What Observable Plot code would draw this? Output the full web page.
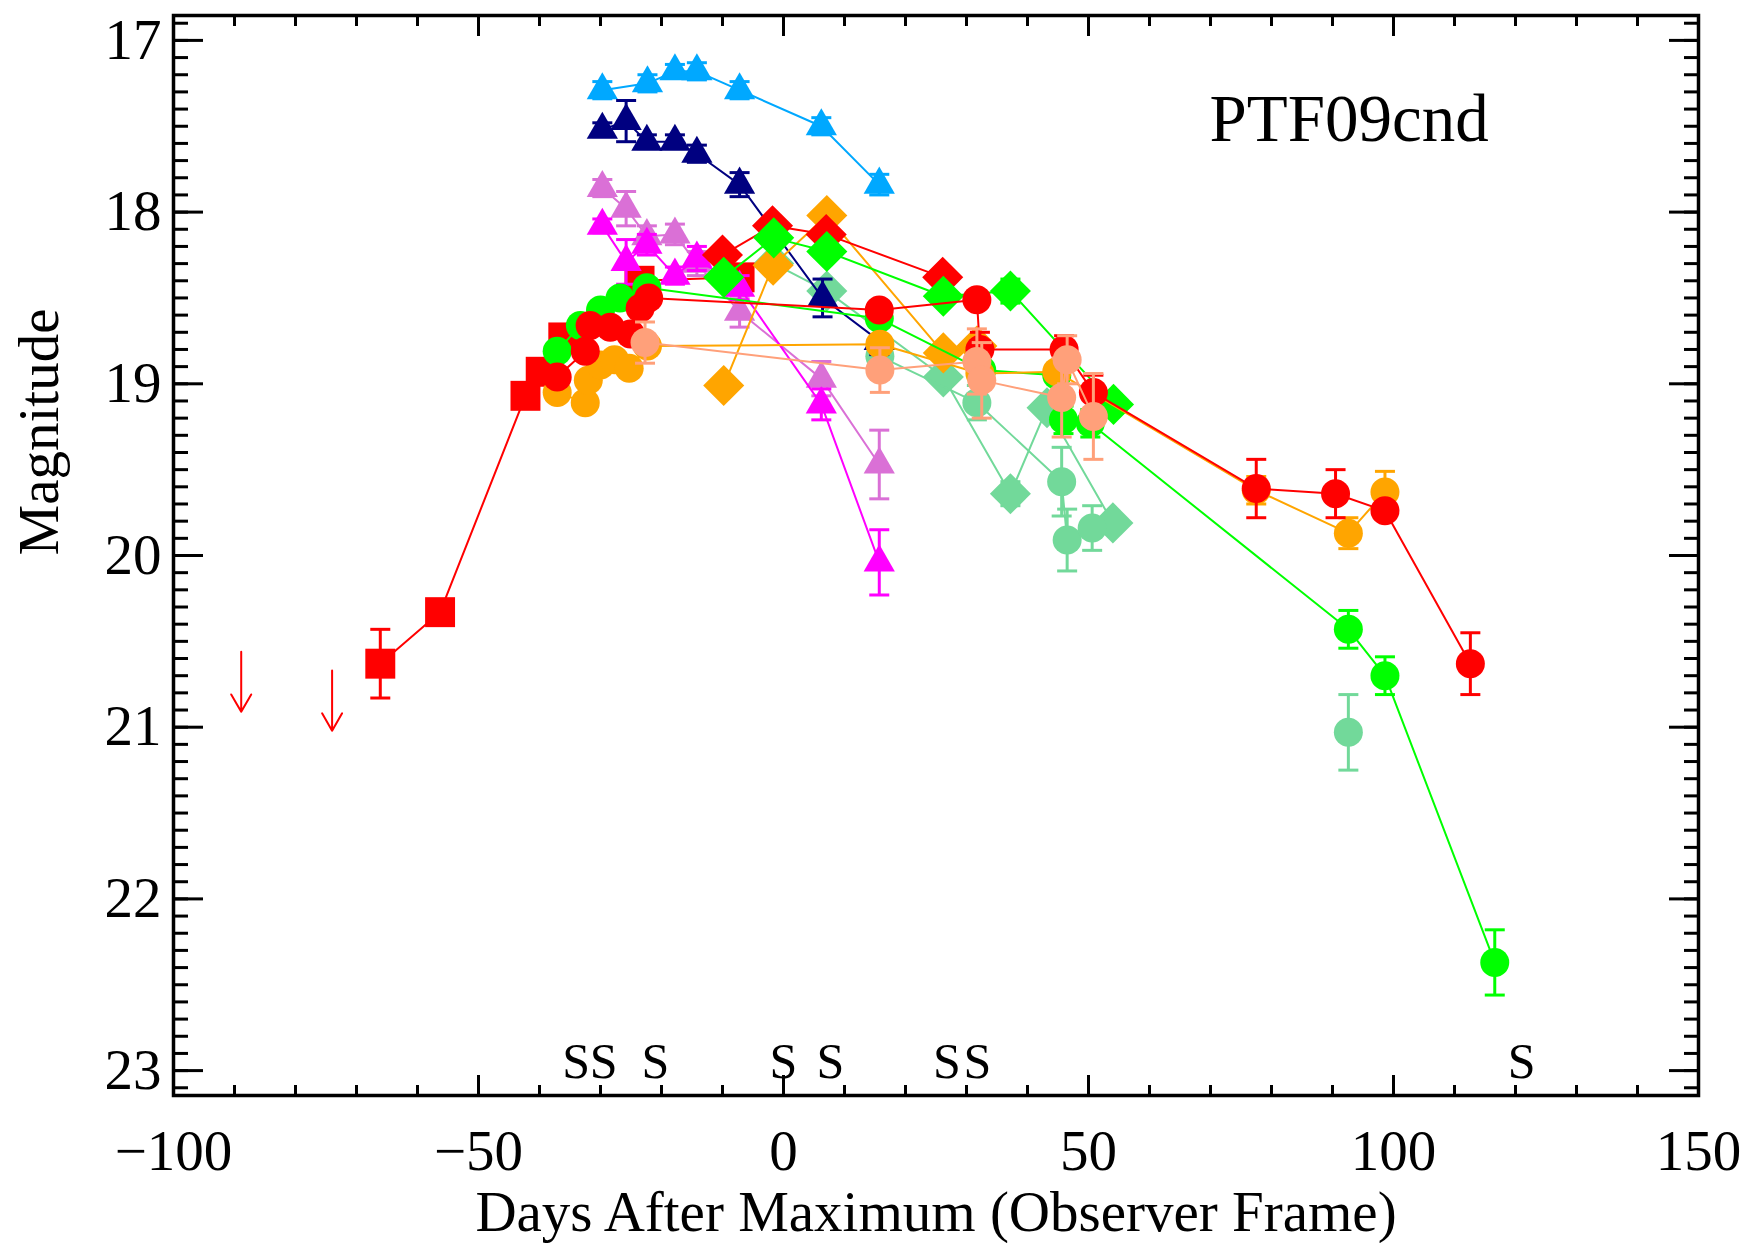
<!DOCTYPE html>
<html><head><meta charset="utf-8">
<script src="https://cdn.jsdelivr.net/npm/d3@7"></script>
<script src="https://cdn.jsdelivr.net/npm/@observablehq/plot@0.6"></script>
<style>html,body{margin:0;padding:0;background:#fff}</style>
</head><body><div id="chart"></div>
<script>
// ---------------- data ----------------
const xMajor = [-100, -50, 0, 50, 100, 150];
const yMajor = [17, 18, 19, 20, 21, 22, 23];
const xTitle = "Days After Maximum (Observer Frame)";
const yTitle = "Magnitude";
const objName = "PTF09cnd";

// Swift UV triangles
const lbDay = [-29.7, -22.3, -17.8, -14.2, -7.2, 6.2, 15.7];
const lbMag = [17.29, 17.25, 17.18, 17.18, 17.29, 17.50, 17.84];
const lbErr = [0.05, 0.05, 0.04, 0.05, 0.05, 0.05, 0.06];

const nvDay = [-29.7, -25.8, -22.4, -17.8, -14.2, -7.2, 6.4, 15.7];
const nvMag = [17.52, 17.47, 17.59, 17.59, 17.66, 17.84, 18.50, 18.75];
const nvErr = [0.04, 0.12, 0.04, 0.04, 0.05, 0.07, 0.11, 0.08];

const orDay = [-29.7, -25.8, -22.4, -17.8, -14.2, -7.2, 6.2, 15.7];
const orMag = [17.86, 17.98, 18.14, 18.13, 18.30, 18.58, 18.97, 19.47];
const orErr = [0.05, 0.10, 0.06, 0.06, 0.07, 0.09, 0.10, 0.20];

const mgDay = [-29.7, -25.8, -22.4, -17.8, -14.2, -7.2, 6.2, 15.7];
const mgMag = [18.08, 18.29, 18.19, 18.37, 18.27, 18.44, 19.12, 20.04];
const mgErr = [0.04, 0.13, 0.06, 0.05, 0.07, 0.07, 0.09, 0.19];

// red squares
const rsDay = [-66.1, -56.3, -42.3, -39.8, -36.1, -23.6, -7.2];
const rsMag = [20.63, 20.33, 19.07, 18.93, 18.73, 18.40, 18.38];
const rsErr = [0.20, 0.05, 0.04, 0.04, 0.04, 0.04, 0.05];

// upper limits (arrows)
const ulDay = [-88.9, -74.0];
const ulMag = [20.56, 20.67];

// circles
const rcDay = [-37.1, -32.5, -31.7, -28.4, -25.1, -23.5, -22.1, 15.7, 31.7, 32.2, 46.0, 50.8, 77.5, 90.5, 98.6, 112.6];
const rcMag = [18.96, 18.81, 18.66, 18.67, 18.71, 18.56, 18.50, 18.57, 18.51, 18.80, 18.80, 19.05, 19.61, 19.64, 19.74, 20.63];
const rcErr = [0.03, 0.03, 0.03, 0.03, 0.03, 0.03, 0.03, 0.04, 0.05, 0.10, 0.08, 0.10, 0.17, 0.14, 0.05, 0.18];

const ocDay = [-37.1, -32.5, -32.0, -30.0, -27.7, -25.3, -22.3, 15.8, 32.2, 44.8, 77.5, 92.6, 98.6];
const ocMag = [19.05, 19.11, 18.98, 18.89, 18.86, 18.91, 18.78, 18.77, 18.94, 18.93, 19.62, 19.87, 19.63];
const ocErr = [0.03, 0.03, 0.03, 0.03, 0.03, 0.03, 0.03, 0.04, 0.04, 0.05, 0.08, 0.09, 0.12];

const gcDay = [-37.1, -33.3, -30.0, -26.8, -22.4, 15.7, 32.5, 44.8, 45.9, 50.3, 92.6, 98.6, 116.6];
const gcMag = [18.81, 18.66, 18.57, 18.50, 18.44, 18.62, 18.92, 18.95, 19.21, 19.23, 20.43, 20.70, 22.37];
const gcErr = [0.03, 0.03, 0.03, 0.03, 0.03, 0.04, 0.05, 0.05, 0.08, 0.08, 0.11, 0.11, 0.19];

const scDay = [-22.7, 15.8, 31.7, 32.5, 45.6, 46.5, 50.8];
const scMag = [18.76, 18.92, 18.87, 18.98, 19.08, 18.86, 19.19];
const scErr = [0.12, 0.13, 0.19, 0.22, 0.23, 0.14, 0.25];

const acDay = [15.8, 31.7, 45.6, 46.5, 50.6, 92.6];
const acMag = [18.84, 19.11, 19.57, 19.91, 19.84, 21.03];
const acErr = [0.04, 0.10, 0.20, 0.18, 0.13, 0.22];
const acSeg = [0, 0, 0, 0, 0, 1];

// diamonds
const gdDay = [-9.8, -1.6, 7.1, 26.2, 37.2, 54.1];
const gdMag = [18.38, 18.15, 18.23, 18.49, 18.46, 19.12];
const gdErr = [0.03, 0.03, 0.03, 0.04, 0.07, 0.05];

const rdDay = [-10.0, -1.8, 7.0, 26.1];
const rdMag = [18.25, 18.08, 18.13, 18.38];
const rdErr = [0.03, 0.03, 0.03, 0.03];

const odDay = [-9.8, -1.7, 7.1, 26.2, 31.7];
const odMag = [19.01, 18.31, 18.02, 18.82, 18.78];
const odErr = [0.03, 0.03, 0.03, 0.03, 0.03];

const adDay = [-1.6, 7.1, 26.2, 37.2, 43.2, 54.0];
const adMag = [18.30, 18.46, 18.96, 19.64, 19.14, 19.81];
const adErr = [0.03, 0.04, 0.04, 0.07, 0.05, 0.04];

// spectra epochs ("S")
const specDay = [-34.0, -29.5, -21.0, 0.0, 7.7, 26.8, 31.8, 121.0];
const specText = "S";

// ---------------- styles ----------------
const C = {
  lblue: "#00A8FF", navy: "#000080", orchid: "#DA70D6", magenta: "#FF00FF",
  red: "#FF0000", orange: "#FFA500", green: "#00FF00", salmon: "#FFA07A", aqua: "#72D99A"
};
const R = {circle: 14.5, square: 16.9, diamond: 18.5, triangle: 11.6};
const FONT = "'Liberation Serif', 'Times New Roman', Times, serif";
const FS = 57;
const specFS = 50;
const specMag = 22.95;
const arrowLen = 0.35;

function rows(days, mags, errs, seg) {
  return days.map((d, i) => ({day: d, mag: mags[i], err: errs ? errs[i] : 0, seg: seg ? seg[i] : 0}));
}

const capSymbol = {draw(ctx) { ctx.moveTo(-10, 0); ctx.lineTo(10, 0); }};

const series = [
  {data: rows(adDay, adMag, adErr), color: C.aqua, symbol: "diamond2", r: R.diamond},
  {data: rows(acDay, acMag, acErr, acSeg), color: C.aqua, symbol: "circle", r: R.circle},
  {data: rows(rsDay, rsMag, rsErr), color: C.red, symbol: "square", r: R.square},
  {data: rows(lbDay, lbMag, lbErr), color: C.lblue, symbol: "triangle", r: R.triangle},
  {data: rows(nvDay, nvMag, nvErr), color: C.navy, symbol: "triangle", r: R.triangle},
  {data: rows(orDay, orMag, orErr), color: C.orchid, symbol: "triangle", r: R.triangle},
  {data: rows(mgDay, mgMag, mgErr), color: C.magenta, symbol: "triangle", r: R.triangle},
  {data: rows(odDay, odMag, odErr), color: C.orange, symbol: "diamond2", r: R.diamond},
  {data: rows(rdDay, rdMag, rdErr), color: C.red, symbol: "diamond2", r: R.diamond},
  {data: rows(gdDay, gdMag, gdErr), color: C.green, symbol: "diamond2", r: R.diamond},
  {data: rows(gcDay, gcMag, gcErr), color: C.green, symbol: "circle", r: R.circle},
  {data: rows(ocDay, ocMag, ocErr), color: C.orange, symbol: "circle", r: R.circle},
  {data: rows(rcDay, rcMag, rcErr), color: C.red, symbol: "circle", r: R.circle},
  {data: rows(scDay, scMag, scErr), color: C.salmon, symbol: "circle", r: R.circle}
];

const marks = [];
for (const s of series) {
  marks.push(Plot.line(s.data, {x: "day", y: "mag", z: "seg", stroke: s.color, strokeWidth: 2}));
  marks.push(Plot.ruleX(s.data, {x: "day", y1: d => d.mag - d.err, y2: d => d.mag + d.err, stroke: s.color, strokeWidth: 3}));
  marks.push(Plot.dot(s.data, {x: "day", y: d => d.mag - d.err, symbol: capSymbol, fill: "none", stroke: s.color, strokeWidth: 3}));
  marks.push(Plot.dot(s.data, {x: "day", y: d => d.mag + d.err, symbol: capSymbol, fill: "none", stroke: s.color, strokeWidth: 3}));
  marks.push(Plot.dot(s.data, {x: "day", y: "mag", symbol: s.symbol, r: s.r, fill: s.color, stroke: "none"}));
}

const limits = ulDay.map((d, i) => ({day: d, mag: ulMag[i]}));
marks.push(Plot.arrow(limits, {x1: "day", x2: "day", y1: "mag", y2: d => d.mag + arrowLen,
  stroke: C.red, strokeWidth: 2, headLength: 15, headAngle: 60}));

marks.push(Plot.text(specDay, {x: d => d, y: () => specMag, text: () => specText,
  fontSize: specFS, fill: "black", textAnchor: "middle", lineAnchor: "middle"}));

const xMinor = d3.range(-100, 151, 10);
const yMinor = d3.range(169, 232).map(v => v / 10);
const blank = () => "";

// ticks on all four sides (inward)
for (const anchor of ["bottom", "top"]) {
  marks.push(Plot.axisX({anchor, ticks: xMajor, tickSize: -20, tickFormat: blank, label: null, strokeWidth: 3}));
  marks.push(Plot.axisX({anchor, ticks: xMinor, tickSize: -10, tickFormat: blank, label: null, strokeWidth: 3}));
}
for (const anchor of ["left", "right"]) {
  marks.push(Plot.axisY({anchor, ticks: yMajor, tickSize: -30, tickFormat: blank, label: null, strokeWidth: 3}));
  marks.push(Plot.axisY({anchor, ticks: yMinor, tickSize: -15, tickFormat: blank, label: null, strokeWidth: 3}));
}
// tick labels
marks.push(Plot.axisX({anchor: "bottom", ticks: xMajor, tickSize: 0, tickPadding: 34, fontSize: FS, label: null}));
marks.push(Plot.axisY({anchor: "left", ticks: yMajor, tickSize: 0, tickPadding: 12, fontSize: FS, label: null, tickFormat: d3.format("d")}));

marks.push(Plot.frame({stroke: "black", strokeWidth: 3.5}));

// titles
marks.push(Plot.text([xTitle], {frameAnchor: "bottom", dy: 135, lineAnchor: "bottom", fontSize: FS}));
marks.push(Plot.text([yTitle], {frameAnchor: "left", dx: -134, rotate: -90, lineAnchor: "middle", fontSize: FS}));
marks.push(Plot.text([objName], {frameAnchor: "top-left", dx: 1036, dy: 78, textAnchor: "start", lineAnchor: "top", fontSize: 67}));

const chart = Plot.plot({
  width: 1743, height: 1243,
  marginLeft: 173, marginRight: 45, marginTop: 15, marginBottom: 148,
  x: {domain: [-100, 150]},
  y: {domain: [16.855, 23.145], reverse: true},
  style: {fontFamily: FONT, background: "white", color: "black", overflow: "visible"},
  marks
});
document.getElementById("chart").appendChild(chart);
</script>
</body></html>
